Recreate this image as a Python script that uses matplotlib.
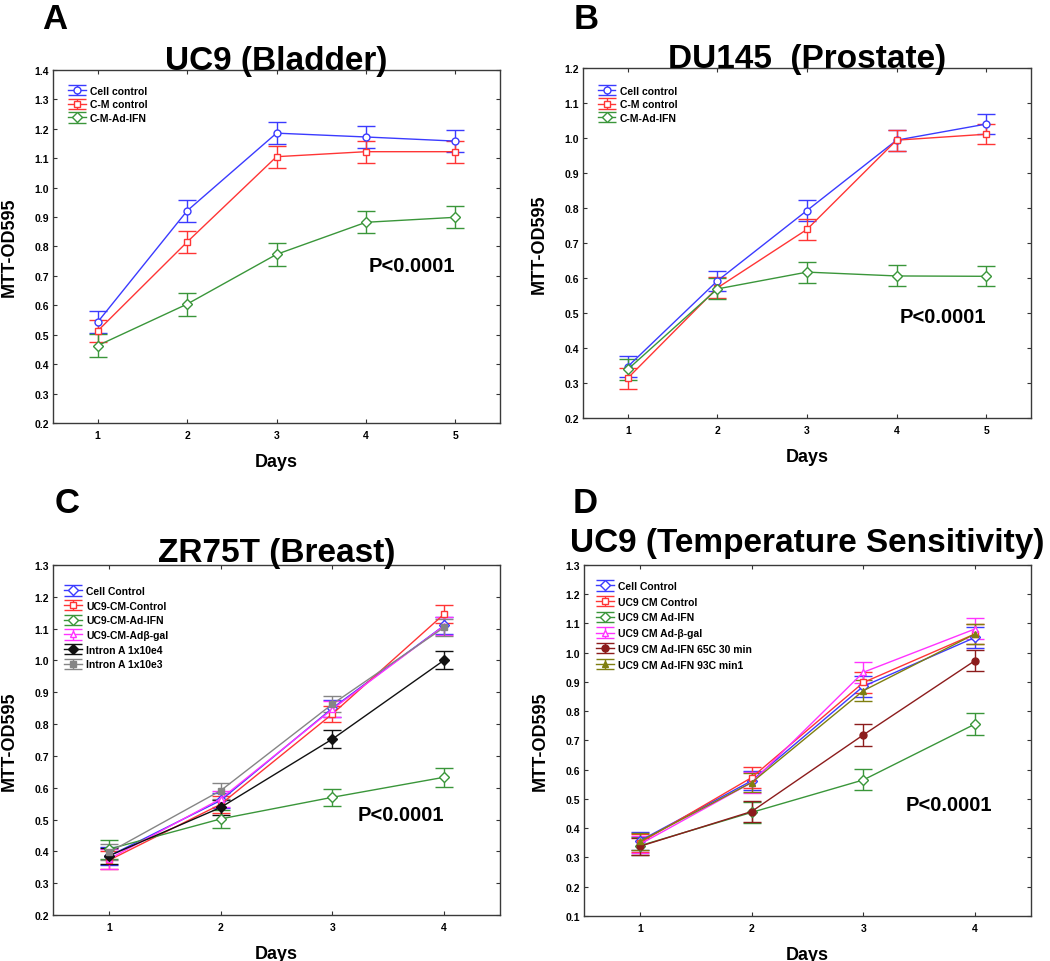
import matplotlib.pyplot as plt
from matplotlib.ticker import FormatStrFormatter

plt.rcParams['font.family'] = ['Liberation Sans', 'DejaVu Sans']
plt.rcParams['font.weight'] = 'bold'

BLUE = '#3b3bff'
RED = '#ff3535'
GREEN = '#3a963a'
MAGENTA = '#ff33ff'
BLACK = '#111111'
GRAY = '#858585'
MAROON = '#8c1c1c'
OLIVE = '#7f7f10'

# ---- Panel A: UC9 (Bladder)
days_a = [1, 2, 3, 4, 5]
labels_a = ['Cell control', 'C-M control', 'C-M-Ad-IFN']
a_cell = [0.543, 0.921, 1.185, 1.172, 1.158]
a_cm = [0.513, 0.815, 1.105, 1.122, 1.122]
a_ifn = [0.463, 0.604, 0.773, 0.882, 0.899]
a_cell_err = [0.038, 0.038, 0.038, 0.038, 0.038]
a_cm_err = [0.038, 0.038, 0.038, 0.038, 0.038]
a_ifn_err = [0.040, 0.039, 0.038, 0.038, 0.038]

# ---- Panel B: DU145 (Prostate)
days_b = [1, 2, 3, 4, 5]
labels_b = ['Cell control', 'C-M control', 'C-M-Ad-IFN']
b_cell = [0.347, 0.592, 0.793, 0.994, 1.040]
b_cm = [0.314, 0.572, 0.739, 0.994, 1.011]
b_ifn = [0.339, 0.569, 0.617, 0.606, 0.605]
b_cell_err = [0.030, 0.028, 0.031, 0.030, 0.029]
b_cm_err = [0.030, 0.030, 0.030, 0.030, 0.028]
b_ifn_err = [0.030, 0.030, 0.030, 0.030, 0.029]

# ---- Panel C: ZR75T (Breast)
days_c = [1, 2, 3, 4]
labels_c = ['Cell Control', 'UC9-CM-Control', 'UC9-CM-Ad-IFN', 'UC9-CM-Adβ-gal',
            'Intron A 1x10e4', 'Intron A 1x10e3']
c_cell = [0.385, 0.560, 0.850, 1.110]
c_cm = [0.372, 0.548, 0.832, 1.146]
c_ifn = [0.407, 0.502, 0.570, 0.633]
c_bgal = [0.376, 0.565, 0.847, 1.109]
c_in4 = [0.386, 0.538, 0.753, 1.001]
c_in3 = [0.397, 0.591, 0.863, 1.104]
c_cell_err = [0.028, 0.025, 0.027, 0.028]
c_cm_err = [0.028, 0.026, 0.025, 0.028]
c_ifn_err = [0.030, 0.028, 0.027, 0.030]
c_bgal_err = [0.030, 0.026, 0.026, 0.028]
c_in4_err = [0.025, 0.025, 0.028, 0.029]
c_in3_err = [0.025, 0.025, 0.026, 0.027]

# ---- Panel D: UC9 (Temperature Sensitivity)
days_d = [1, 2, 3, 4]
labels_d = ['Cell Control', 'UC9 CM Control', 'UC9 CM Ad-IFN', 'UC9 CM Ad-β-gal',
            'UC9 CM Ad-IFN 65C 30 min', 'UC9 CM Ad-IFN 93C min1']
d_cell = [0.357, 0.562, 0.885, 1.052]
d_cm = [0.350, 0.573, 0.898, 1.064]
d_ifn = [0.340, 0.454, 0.565, 0.756]
d_bgal = [0.345, 0.556, 0.933, 1.081]
d_65c = [0.338, 0.457, 0.719, 0.973]
d_93c = [0.355, 0.556, 0.870, 1.064]
d_cell_err = [0.030, 0.033, 0.035, 0.035]
d_cm_err = [0.030, 0.035, 0.035, 0.035]
d_ifn_err = [0.030, 0.035, 0.036, 0.039]
d_bgal_err = [0.030, 0.035, 0.036, 0.036]
d_65c_err = [0.030, 0.037, 0.037, 0.037]
d_93c_err = [0.030, 0.033, 0.035, 0.035]


def draw_panel(ax, days, series, errs, labels, styles, ylim, title, title_pad,
               ptext_xy, leg_anchor, leg_spacing):
    for vals, err, lab, (col, mk, filled) in zip(series, errs, labels, styles):
        ax.errorbar(days, vals, yerr=err, color=col, marker=mk, ms=5,
                    mfc=col if filled else 'white', mec=col, mew=1.0,
                    lw=1.0, elinewidth=1.0, capsize=6.5, capthick=1.0, label=lab)
    ax.set_xlim(days[0] - 0.5, days[-1] + 0.5)
    ax.set_ylim(*ylim)
    ax.set_xticks(days)
    ax.yaxis.set_major_locator(plt.MultipleLocator(0.1))
    ax.yaxis.set_major_formatter(FormatStrFormatter('%.1f'))
    ax.tick_params(direction='in', length=3, width=0.8, color='#333333',
                   top=True, right=True, labelsize=7.5)
    ax.tick_params(axis='x', pad=5)
    ax.tick_params(axis='y', pad=3)
    for sp in ax.spines.values():
        sp.set_color('#3a3a3a')
        sp.set_linewidth(1.0)
    ax.set_title(title, fontsize=24, fontweight='bold', pad=title_pad)
    ax.set_xlabel('Days', fontsize=13, fontweight='bold')
    ax.set_ylabel('MTT-OD595', fontsize=13, fontweight='bold')
    ax.xaxis.set_label_coords(0.5, -0.085)
    ax.xaxis.label.set_va('top')
    ax.yaxis.set_label_coords(-0.078, 0.5)
    ax.text(ptext_xy[0], ptext_xy[1], 'P<0.0001', fontsize=14.5, fontweight='bold',
            ha='right', va='center')
    ax.legend(loc='upper left', bbox_to_anchor=leg_anchor, frameon=False,
              borderaxespad=0, borderpad=0, handlelength=1.7, handletextpad=0.4,
              labelspacing=leg_spacing, prop={'size': 7.5, 'weight': 'bold'})


fig = plt.figure(figsize=(10.5, 9.62), dpi=100)
ax_a = fig.add_axes([0.0505, 0.5593, 0.4257, 0.367])
ax_b = fig.add_axes([0.5552, 0.5644, 0.4267, 0.3638])
ax_c = fig.add_axes([0.0505, 0.0478, 0.4257, 0.3638])
ax_d = fig.add_axes([0.5562, 0.0468, 0.4257, 0.365])

three = [(BLUE, 'o', False), (RED, 's', False), (GREEN, 'D', False)]
draw_panel(ax_a, days_a, [a_cell, a_cm, a_ifn], [a_cell_err, a_cm_err, a_ifn_err],
           labels_a, three, (0.2, 1.4), 'UC9 (Bladder)', 1,
           (5.0, 0.735), (0.034, 0.955), 0.35)
draw_panel(ax_b, days_b, [b_cell, b_cm, b_ifn], [b_cell_err, b_cm_err, b_ifn_err],
           labels_b, three, (0.2, 1.2), 'DU145  (Prostate)', 1,
           (5.0, 0.491), (0.033, 0.95), 0.35)

six_c = [(BLUE, 'D', False), (RED, 's', False), (GREEN, 'D', False),
         (MAGENTA, '^', False), (BLACK, 'D', True), (GRAY, 's', True)]
draw_panel(ax_c, days_c, [c_cell, c_cm, c_ifn, c_bgal, c_in4, c_in3],
           [c_cell_err, c_cm_err, c_ifn_err, c_bgal_err, c_in4_err, c_in3_err],
           labels_c, six_c, (0.2, 1.3), 'ZR75T (Breast)', 3,
           (4.0, 0.517), (0.025, 0.94), 0.45)

six_d = [(BLUE, 'D', False), (RED, 's', False), (GREEN, 'D', False),
         (MAGENTA, '^', False), (MAROON, 'o', True), (OLIVE, '^', True)]
draw_panel(ax_d, days_d, [d_cell, d_cm, d_ifn, d_bgal, d_65c, d_93c],
           [d_cell_err, d_cm_err, d_ifn_err, d_bgal_err, d_65c_err, d_93c_err],
           labels_d, six_d, (0.1, 1.3), 'UC9 (Temperature Sensitivity)', 10,
           (4.15, 0.482), (0.027, 0.954), 0.55)

# panel letters
for x, y, s in [(42, 29, 'A'), (574, 29, 'B'), (55, 513, 'C'), (573, 513, 'D')]:
    fig.text(x / 1050, 1 - y / 962, s, fontsize=25, fontweight='bold',
             ha='left', va='baseline')

fig.savefig('out.png', dpi=100)
